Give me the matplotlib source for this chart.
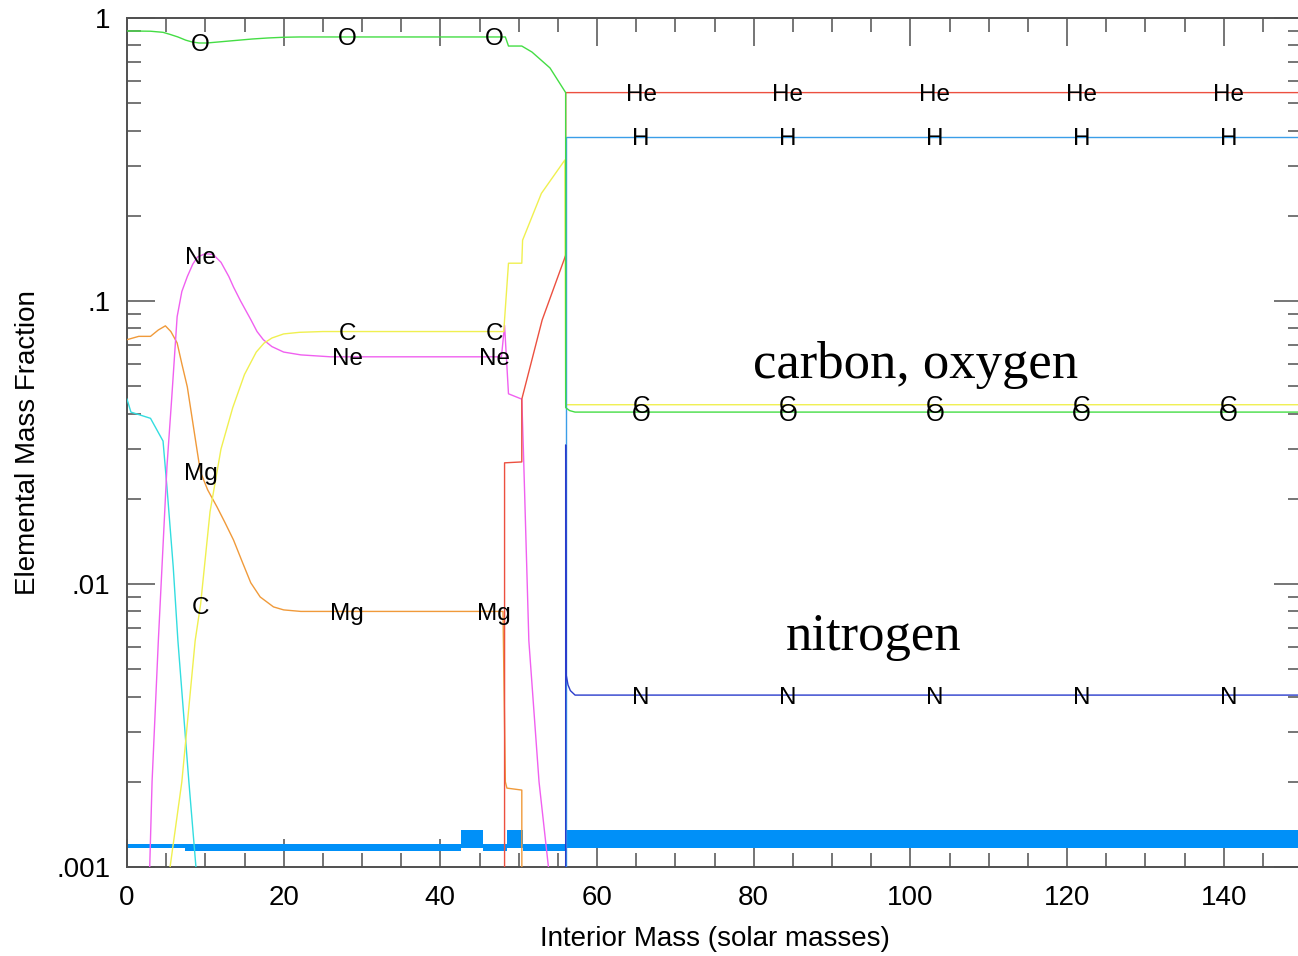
import numpy as np
import matplotlib.pyplot as plt
from matplotlib.ticker import MultipleLocator, LogLocator, FixedLocator, FixedFormatter

LOW = 1e-5  # anything below the plot floor

# interior mass (solar masses) and mass fraction
cyan_m = [0, 0.5, 3.0, 4.6, 5.1, 5.9, 6.5, 7.9, 8.8, 9.5]
cyan_x = [0.045, 0.0405, 0.0385, 0.032, 0.022, 0.0115, 0.0063, 0.002, 0.001, LOW]

mg_m = [0, 1.5, 3.0, 4.0, 4.9, 5.6, 6.4, 7.0, 7.7, 9.0, 9.375, 10.3, 11.5, 12.5, 13.6,
        14.7, 15.8, 17.0, 18.7, 20.0, 22.2, 48.0, 48.3, 48.5, 50.4, 50.45]
mg_x = [0.073, 0.075, 0.075, 0.079, 0.0817, 0.078, 0.0711, 0.060, 0.0497, 0.029, 0.0249,
        0.0215, 0.0187, 0.0165, 0.0143, 0.012, 0.0101, 0.009, 0.0083, 0.0081, 0.0080,
        0.0080, 0.0020, 0.0019, 0.00187, LOW]

ne_m = [2.9, 3.2, 4.0, 5.1, 5.7, 6.4, 7.0, 7.7, 8.4, 9.0, 10.0, 11.0, 12.0, 13.0, 13.6,
        14.5, 15.8, 16.6, 17.4, 18.5, 20.0, 22.2, 26.0, 47.8, 48.2, 48.7, 50.4, 50.6,
        51.3, 52.6, 53.8, 54.5]
ne_x = [0.001, 0.002, 0.0063, 0.026, 0.045, 0.088, 0.108, 0.122, 0.135, 0.143, 0.147,
        0.146, 0.137, 0.122, 0.112, 0.100, 0.086, 0.078, 0.073, 0.069, 0.066, 0.0645,
        0.0635, 0.0635, 0.082, 0.047, 0.045, 0.030, 0.0063, 0.002, 0.001, LOW]

c_m = [5.5, 7.0, 8.7, 9.4, 10.6, 12.0, 13.5, 15.0, 16.5, 17.5, 18.5, 20.0, 22.0, 25.0,
       48.1, 48.2, 48.7, 50.4, 50.5, 52.9, 55.9, 56.0, 150]
c_x = [0.001, 0.002, 0.0063, 0.0085, 0.018, 0.030, 0.042, 0.055, 0.066, 0.071, 0.074,
       0.0765, 0.0775, 0.078, 0.078, 0.086, 0.136, 0.136, 0.164, 0.24, 0.315, 0.043, 0.043]

he_m = [48.2, 48.2, 50.4, 50.4, 53.0, 56.0, 56.0, 150]
he_x = [LOW, 0.0268, 0.027, 0.045, 0.0857, 0.145, 0.545, 0.545]

h_m = [56.0, 56.0, 150]
h_x = [LOW, 0.38, 0.38]

n_m = [56.0, 56.0, 56.05, 56.3, 56.6, 57.2, 150]
n_x = [LOW, 0.031, 0.0048, 0.0044, 0.0042, 0.00405, 0.00405]

o_m = [0, 3.0, 4.6, 5.5, 6.5, 7.5, 8.3, 9.2, 10.2, 11.5, 13.0, 16.0, 18.0, 20.0, 22.0,
       48.3, 48.7, 50.4, 51.7, 54.0, 56.0, 56.0, 56.5, 57.2, 150]
o_x = [0.90, 0.898, 0.89, 0.875, 0.857, 0.835, 0.823, 0.816, 0.816, 0.822, 0.829,
       0.843, 0.850, 0.855, 0.857, 0.857, 0.796, 0.796, 0.758, 0.666, 0.545, 0.042,
       0.041, 0.0405, 0.0405]

# thick blue strip near the floor
band_m = [0, 7.4, 7.4, 42.6, 42.6, 45.5, 45.5, 48.5, 48.5, 50.5, 50.5, 55.9, 55.9, 150]
band_lo = [0.00117, 0.00117, 0.00114, 0.00114, 0.00117, 0.00117, 0.00114, 0.00114,
           0.00117, 0.00117, 0.00114, 0.00114, 0.00117, 0.00117]
band_hi = [0.00121, 0.00121, 0.00121, 0.00121, 0.00135, 0.00135, 0.00121, 0.00121,
           0.00135, 0.00135, 0.00121, 0.00121, 0.00135, 0.00135]

# drawn in this order (oxygen on top)
series = [
    (None, cyan_m, cyan_x, '#33dde0'),
    ('Mg', mg_m, mg_x, '#f09a3a'),
    ('Ne', ne_m, ne_x, '#f060f0'),
    ('C', c_m, c_x, '#f0f050'),
    ('He', he_m, he_x, '#ec5040'),
    ('H', h_m, h_x, '#3a9ee8'),
    ('N', n_m, n_x, '#2a3ccc'),
    ('O', o_m, o_x, '#44dd44'),
]

label_mass = 9.375 + 18.75 * np.arange(8)

x_ticks = [0, 20, 40, 60, 80, 100, 120, 140]
y_ticks = [0.001, 0.01, 0.1, 1]
y_ticklabels = ['.001', '.01', '.1', '1']

FONT = 'Liberation Sans'
TICK_COLOR = '#505050'

fig = plt.figure(figsize=(12.98, 9.56), dpi=100)
ax = fig.add_axes([127 / 1298, 89 / 956, 1175 / 1298, 849 / 956])

ax.fill_between(band_m, band_lo, band_hi, color='#0090f8', lw=0, zorder=2)

for name, m, x, col in series:
    ax.plot(m, x, color=col, lw=1.0, zorder=3)

# element names sit on the curves at evenly spaced masses
for name, m, x, col in series:
    if name is None:
        continue
    vals = 10 ** np.interp(label_mass, m, np.log10(x))
    for lm, v in zip(label_mass, vals):
        if v > 1.05e-3:
            ax.text(lm, v, name, ha='center', va='center_baseline', fontsize=17.5,
                    family=FONT, color='black', zorder=5)

ax.text(79.9, 0.0534, 'carbon, oxygen', family='Liberation Serif', fontsize=38,
        ha='left', va='baseline', zorder=6)
ax.text(84.1, 0.00585, 'nitrogen', family='Liberation Serif', fontsize=38,
        ha='left', va='baseline', zorder=6)

ax.set_yscale('log')
ax.set_xlim(0, 150)
ax.set_ylim(0.001, 1)

ax.xaxis.set_major_locator(FixedLocator(x_ticks))
ax.xaxis.set_minor_locator(MultipleLocator(5))
ax.yaxis.set_major_locator(FixedLocator(y_ticks))
ax.yaxis.set_major_formatter(FixedFormatter(y_ticklabels))
ax.yaxis.set_minor_locator(LogLocator(base=10, subs=np.arange(2, 10)))
ax.yaxis.set_minor_formatter(FixedFormatter([]))

ax.tick_params(which='both', direction='in', top=True, right=True, color=TICK_COLOR,
               width=1.1, labelsize=20)
ax.tick_params(which='major', length=20)
ax.tick_params(which='minor', length=10)
ax.tick_params(axis='x', pad=13)
ax.tick_params(axis='y', pad=12)
for lab in ax.get_xticklabels() + ax.get_yticklabels():
    lab.set_family(FONT)

for sp in ax.spines.values():
    sp.set_color(TICK_COLOR)
    sp.set_linewidth(1.4)

ax.set_xlabel('Interior Mass (solar masses)', fontsize=20, family=FONT)
ax.set_ylabel('Elemental Mass Fraction', fontsize=20, family=FONT)
ax.xaxis.set_label_coords(0.5, -0.070)
ax.yaxis.set_label_coords(-0.073, 0.5)

fig.savefig('out.png', dpi=100)
